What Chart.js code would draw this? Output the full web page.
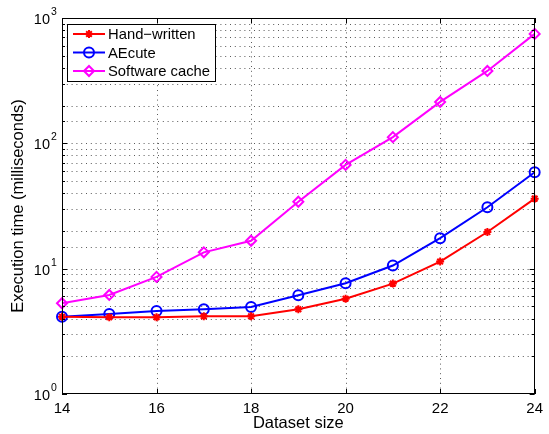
<!DOCTYPE html>
<html>
<head>
<meta charset="utf-8">
<script src="https://cdn.jsdelivr.net/npm/chart.js@4.4.0/dist/chart.umd.min.js"></script>
<style>
  html, body { margin: 0; padding: 0; background: #fff; }
  #wrap { width: 549px; height: 434px; }
</style>
</head>
<body>
<div id="wrap"><canvas id="timeChart" width="549" height="434"></canvas></div>
<script>
// values (milliseconds)
const datasetSizes = [14, 15, 16, 17, 18, 19, 20, 21, 22, 23, 24];
const handWritten = [4.14, 4.1, 4.1, 4.17, 4.17, 4.74, 5.76, 7.6, 11.4, 19.6, 36.2];
const aecute = [4.14, 4.35, 4.6, 4.74, 4.95, 6.13, 7.65, 10.6, 17.5, 30.9, 58.8];
const softwareCache = [5.3, 6.17, 8.6, 13.5, 16.7, 34.2, 67.3, 112, 214, 378, 747];
const xTickValues = [14, 16, 18, 20, 22, 24];
const yDecades = [1, 10, 100, 1000];
const yExponents = ['0', '1', '2', '3'];

const fontFamily = '"Liberation Sans", Arial, Helvetica, sans-serif';
const gridColor = '#5a5a5a';

function toPoints(values) {
    return datasetSizes.map((x, i) => ({x: x, y: values[i]}));
}

function makeSeries(label, values, color, style, radius) {
    return {
        label: label,
        data: toPoints(values),
        borderColor: color,
        backgroundColor: color,
        borderWidth: 2,
        tension: 0,
        pointStyle: style,
        pointRadius: radius,
        pointBorderWidth: 2,
        pointBorderColor: color,
        pointBackgroundColor: style === 'star' ? color : 'rgba(0,0,0,0)',
        clip: false
    };
}

// dotted grid under the lines
const dottedGrid = {
    id: 'dottedGrid',
    beforeDatasetsDraw(chart) {
        const ctx = chart.ctx;
        const area = chart.chartArea;
        const xs = chart.scales.x;
        const ys = chart.scales.y;
        ctx.save();
        ctx.strokeStyle = gridColor;
        ctx.lineWidth = 1;
        ctx.setLineDash([1, 3.8]);
        ctx.beginPath();
        xTickValues.slice(1, -1).forEach(v => {
            const px = Math.round(xs.getPixelForValue(v)) + 0.5;
            ctx.moveTo(px, area.top); ctx.lineTo(px, area.bottom);
        });
        ys.ticks.forEach(t => {
            if (t.value <= 1 || t.value >= 1000) return;
            const py = Math.round(ys.getPixelForValue(t.value)) + 0.5;
            ctx.moveTo(area.left, py); ctx.lineTo(area.right, py);
        });
        ctx.stroke();
        ctx.restore();
    }
};

// frame, inward ticks, power-of-ten labels and boxed legend like the original figure
const matlabLook = {
    id: 'matlabLook',
    afterDraw(chart) {
        const ctx = chart.ctx;
        const area = chart.chartArea;
        const xs = chart.scales.x;
        const ys = chart.scales.y;
        ctx.save();
        ctx.strokeStyle = '#000';
        ctx.lineWidth = 1;
        ctx.setLineDash([]);

        ctx.beginPath();
        xTickValues.forEach(v => {
            const px = Math.round(xs.getPixelForValue(v)) + 0.5;
            ctx.moveTo(px, area.bottom); ctx.lineTo(px, area.bottom - 5);
            ctx.moveTo(px, area.top); ctx.lineTo(px, area.top + 5);
        });
        ys.ticks.forEach(t => {
            const py = Math.round(ys.getPixelForValue(t.value)) + 0.5;
            const len = yDecades.includes(t.value) ? 5 : 3;
            ctx.moveTo(area.left, py); ctx.lineTo(area.left + len, py);
            ctx.moveTo(area.right, py); ctx.lineTo(area.right - len, py);
        });
        ctx.stroke();

        ctx.strokeRect(Math.round(area.left) + 0.5, Math.round(area.top) + 0.5,
            Math.round(area.right - area.left) - 1, Math.round(area.bottom - area.top) - 1);

        // y labels 10^n
        ctx.fillStyle = '#000';
        yDecades.forEach((v, i) => {
            const py = ys.getPixelForValue(v);
            ctx.font = '14.5px ' + fontFamily;
            ctx.textAlign = 'right';
            ctx.textBaseline = 'middle';
            ctx.fillText('10', 50, py + 2);
            ctx.font = '10.5px ' + fontFamily;
            ctx.textAlign = 'left';
            ctx.fillText(yExponents[i], 51, py - 6);
        });

        // legend
        const box = {x: 67, y: 24, w: 148, h: 57};
        ctx.fillStyle = '#fff';
        ctx.fillRect(box.x, box.y, box.w, box.h);
        ctx.strokeStyle = '#000';
        ctx.strokeRect(box.x + 0.5, box.y + 0.5, box.w, box.h);
        ctx.font = '14.8px ' + fontFamily;
        ctx.textAlign = 'left';
        ctx.textBaseline = 'middle';
        chart.data.datasets.forEach((ds, i) => {
            const ly = 34 + i * 18.5;
            ctx.strokeStyle = ds.borderColor;
            ctx.lineWidth = 2;
            ctx.beginPath();
            ctx.moveTo(73, ly); ctx.lineTo(105, ly);
            ctx.stroke();
            ctx.fillStyle = ds.pointBackgroundColor;
            Chart.helpers.drawPoint(ctx, {
                pointStyle: ds.pointStyle, radius: ds.pointRadius,
                borderWidth: 2, rotation: 0
            }, 89, ly);
            ctx.fillStyle = '#000';
            ctx.fillText(ds.label, 108, ly + 1);
        });
        ctx.restore();
    }
};

new Chart(document.getElementById('timeChart').getContext('2d'), {
    type: 'line',
    data: {
        datasets: [
            makeSeries('Hand\u2212written', handWritten, '#ff0000', 'star', 4),
            makeSeries('AEcute', aecute, '#0000ff', 'circle', 5),
            makeSeries('Software cache', softwareCache, '#ff00ff', 'rectRot', 5)
        ]
    },
    options: {
        responsive: false,
        animation: false,
        layout: {padding: {top: 18, right: 11, left: 0, bottom: 0}},
        plugins: {legend: {display: false}, tooltip: {enabled: false}},
        scales: {
            x: {
                type: 'linear',
                min: 14,
                max: 24,
                afterBuildTicks: s => { s.ticks = xTickValues.map(v => ({value: v})); },
                afterFit: s => { s.height = 40; },
                ticks: {
                    color: '#000',
                    padding: 6,
                    maxRotation: 0,
                    font: {family: fontFamily, size: 15}
                },
                grid: {display: false, drawTicks: false},
                border: {display: false},
                title: {
                    display: true,
                    text: 'Dataset size',
                    color: '#000',
                    padding: {top: 0, bottom: 1},
                    font: {family: fontFamily, size: 16.5}
                }
            },
            y: {
                type: 'logarithmic',
                min: 1,
                max: 1000,
                afterFit: s => { s.width = 62; },
                ticks: {display: false},
                grid: {display: false, drawTicks: false},
                border: {display: false},
                title: {
                    display: true,
                    text: 'Execution time (milliseconds)',
                    color: '#000',
                    padding: {top: 9, bottom: 0},
                    font: {family: fontFamily, size: 16.5}
                }
            }
        }
    },
    plugins: [dottedGrid, matlabLook]
});
</script>
</body>
</html>
